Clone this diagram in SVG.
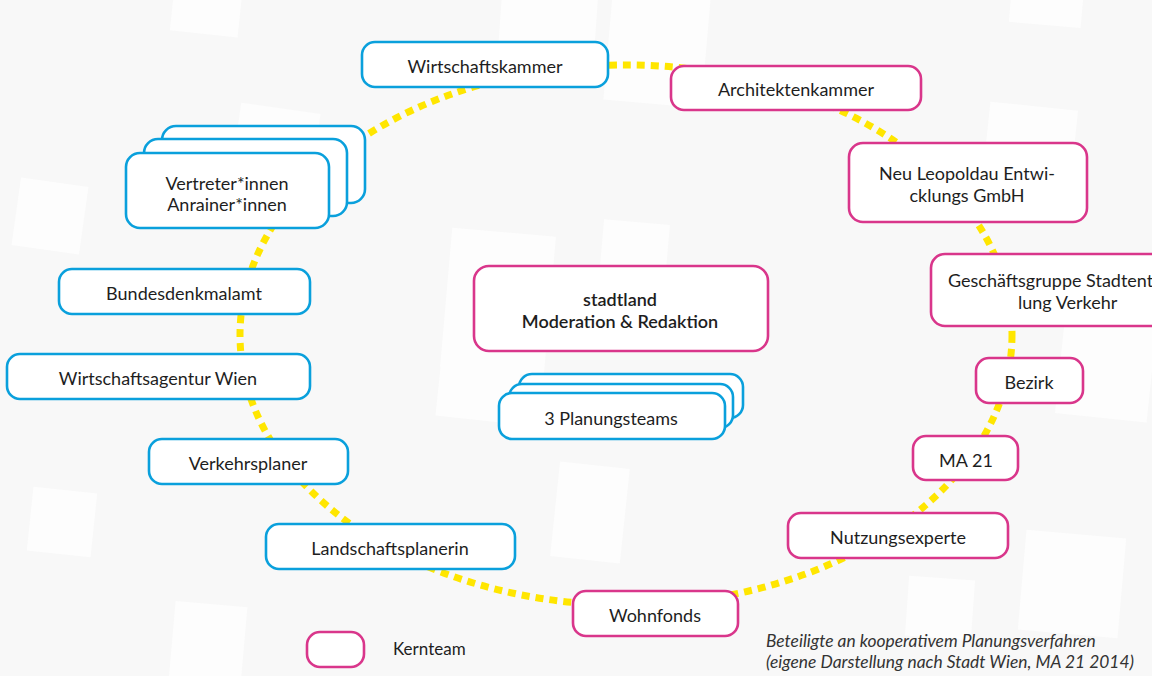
<svg xmlns="http://www.w3.org/2000/svg" width="1152" height="676" viewBox="0 0 1152 676">
<style>
.bg{fill:#f8f8f8}
.sq{fill:#fdfdfd}
.b{fill:#ffffff;stroke:#0aa0dc;stroke-width:2.6}
.m{fill:#ffffff;stroke:#d9368b;stroke-width:2.6}
.t{font-family:Lato,"Liberation Sans",sans-serif;font-size:18px;fill:#1e1e1e;text-anchor:middle}
.s{font-weight:600}
.cap{font-family:Lato,"Liberation Sans",sans-serif;font-size:17.4px;font-style:italic;fill:#333333}
.ring{fill:none;stroke:#ffe600;stroke-width:7;stroke-dasharray:8 6}
</style>
<rect class="bg" x="0" y="0" width="1152" height="676"/>
<g id="background">
<rect class="sq" x="172" y="-10" width="68" height="44" transform="rotate(6 206 12)"/>
<rect class="sq" x="500" y="-5" width="96" height="58" transform="rotate(4 548 24)"/>
<rect class="sq" x="608" y="-6" width="98" height="110" transform="rotate(5 657 49)"/>
<rect class="sq" x="1010" y="-5" width="72" height="30" transform="rotate(5 1046 10)"/>
<rect class="sq" x="236" y="108" width="80" height="70" transform="rotate(8 276 143)"/>
<rect class="sq" x="16" y="182" width="68" height="68" transform="rotate(8 50 216)"/>
<rect class="sq" x="446" y="232" width="104" height="140" transform="rotate(5 498 302)"/>
<rect class="sq" x="600" y="222" width="66" height="92" transform="rotate(5 633 268)"/>
<rect class="sq" x="985" y="106" width="88" height="100" transform="rotate(6 1029 156)"/>
<rect class="sq" x="440" y="330" width="80" height="90" transform="rotate(6 480 375)"/>
<rect class="sq" x="555" y="465" width="70" height="95" transform="rotate(6 590 512)"/>
<rect class="sq" x="172" y="604" width="72" height="80" transform="rotate(5 208 644)"/>
<rect class="sq" x="907" y="578" width="66" height="60" transform="rotate(4 940 608)"/>
<rect class="sq" x="1022" y="534" width="100" height="100" transform="rotate(5 1072 584)"/>
<rect class="sq" x="1060" y="318" width="92" height="100" transform="rotate(6 1106 368)"/>
<rect class="sq" x="30" y="490" width="64" height="64" transform="rotate(6 62 522)"/>
</g>
<g id="connectors">
<ellipse class="ring" cx="626" cy="335" rx="386" ry="270"/>
</g>
<g id="wirtschaftskammer"><rect class="b" x="362" y="42" width="246" height="45" rx="13"/><text class="t" x="485" y="73">Wirtschaftskammer</text></g>
<g id="architektenkammer"><rect class="m" x="671" y="66" width="250" height="44" rx="13"/><text class="t" x="796" y="96">Architektenkammer</text></g>
<g id="vertreter">
<rect class="b" x="162" y="126" width="203" height="77" rx="14"/>
<rect class="b" x="144" y="139" width="203" height="77" rx="14"/>
<rect class="b" x="126" y="153" width="203" height="75" rx="14"/>
<text class="t" x="227" y="190">Vertreter*innen</text><text class="t" x="227" y="211">Anrainer*innen</text></g>
<g id="bundesdenkmalamt"><rect class="b" x="59" y="269" width="251" height="45" rx="13"/><text class="t" x="184" y="300">Bundesdenkmalamt</text></g>
<g id="wirtschaftsagentur"><rect class="b" x="7" y="354" width="303" height="45" rx="13"/><text class="t" x="158" y="385">Wirtschaftsagentur Wien</text></g>
<g id="verkehrsplaner"><rect class="b" x="149" y="439" width="199" height="45" rx="13"/><text class="t" x="248" y="470">Verkehrsplaner</text></g>
<g id="landschaftsplanerin"><rect class="b" x="266" y="524" width="249" height="45" rx="13"/><text class="t" x="390" y="555">Landschaftsplanerin</text></g>
<g id="wohnfonds"><rect class="m" x="573" y="591" width="165" height="45" rx="13"/><text class="t" x="655" y="622">Wohnfonds</text></g>
<g id="nutzungsexperte"><rect class="m" x="788" y="513" width="220" height="45" rx="13"/><text class="t" x="898" y="544">Nutzungsexperte</text></g>
<g id="ma21"><rect class="m" x="913" y="436" width="105" height="44" rx="13"/><text class="t" x="966" y="467">MA 21</text></g>
<g id="bezirk"><rect class="m" x="976" y="358" width="107" height="45" rx="13"/><text class="t" x="1029" y="389">Bezirk</text></g>
<g id="geschaeftsgruppe"><rect class="m" x="931" y="254" width="240" height="72" rx="14"/><text class="t" x="948" y="287" style="text-anchor:start">Geschäftsgruppe Stadtentwick-</text><text class="t" x="1018" y="309" style="text-anchor:start">lung Verkehr</text></g>
<g id="neuleopoldau"><rect class="m" x="849" y="143" width="238" height="79" rx="14"/><text class="t" x="967" y="180">Neu Leopoldau Entwi-</text><text class="t" x="967" y="202">cklungs GmbH</text></g>
<g id="stadtland"><rect class="m" x="474" y="266" width="294" height="85" rx="15"/><text class="t s" x="620" y="306">stadtland</text><text class="t s" x="620" y="328">Moderation &amp; Redaktion</text></g>
<g id="planungsteams">
<rect class="b" x="519" y="374" width="224" height="44" rx="13"/>
<rect class="b" x="509" y="384" width="224" height="44" rx="13"/>
<rect class="b" x="499" y="393" width="226" height="46" rx="13"/>
<text class="t" x="611" y="425">3 Planungsteams</text></g>
<g id="legend"><rect class="m" x="307" y="632" width="57" height="35" rx="13"/><text class="t" x="393" y="655" style="text-anchor:start;font-size:17px">Kernteam</text></g>
<g id="caption"><text class="cap" x="766" y="647">Beteiligte an kooperativem Planungsverfahren</text><text class="cap" x="766" y="668">(eigene Darstellung nach Stadt Wien, MA 21 2014)</text></g>
</svg>
